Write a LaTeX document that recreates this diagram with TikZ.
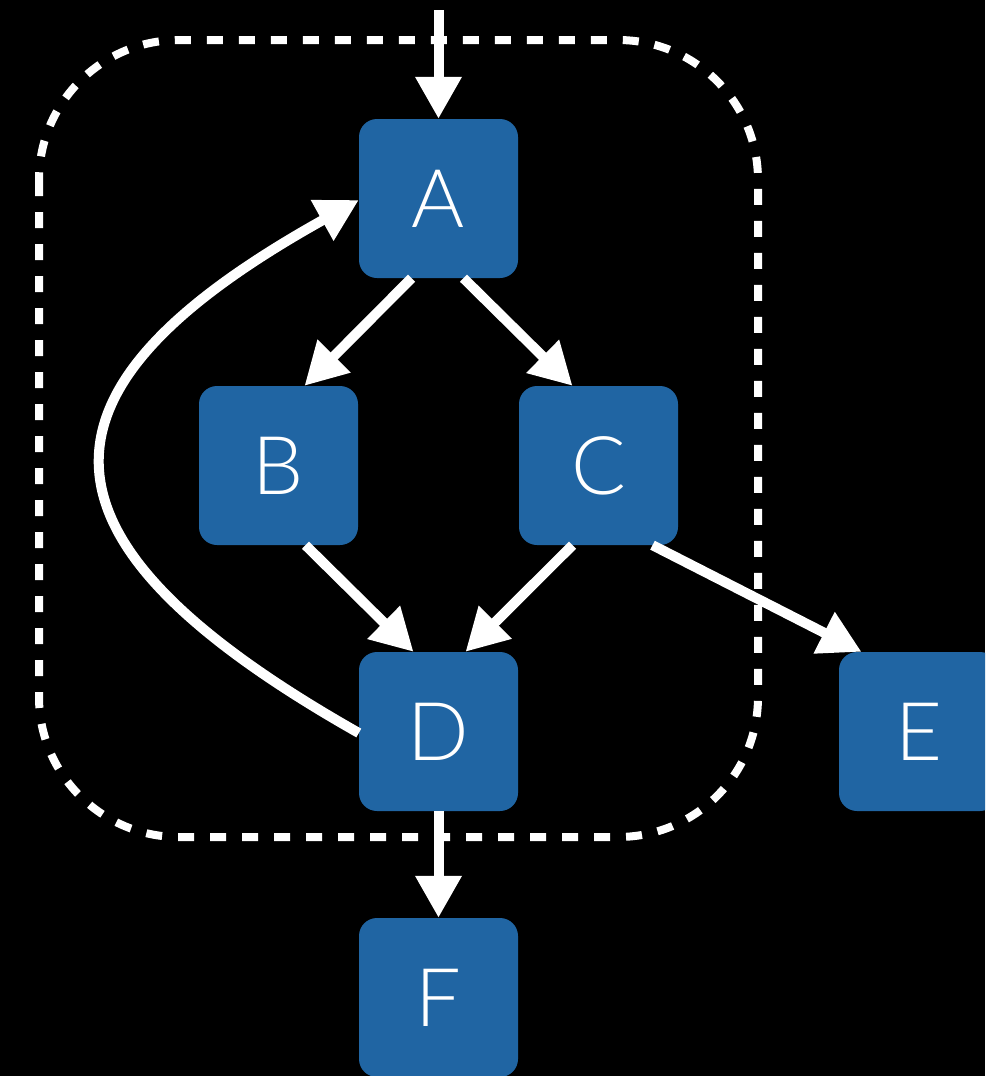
\documentclass[tikz,border=0pt]{standalone}
\usepackage{fontspec}
\setmainfont{Lato Light}
\usetikzlibrary{arrows.meta}
\definecolor{boxblue}{RGB}{32,101,163}
\tikzset{
  blk/.style={fill=boxblue, rounded corners=18pt, minimum width=159pt, minimum height=159pt,
    inner sep=0pt, text=white, font=\fontsize{81}{81}\selectfont},
  flow/.style={draw=white, line width=10pt, -{Triangle[length=42pt,width=44pt]}},
  frame/.style={draw=white, line width=8pt, dash pattern=on 16pt off 16pt, rounded corners=140pt}
}
\begin{document}
\begin{tikzpicture}[x=1pt,y=-1pt]
  \clip (0,0) rectangle (985,1076);
  \fill[black] (0,0) rectangle (985,1076);
  % dashed region around the loop
  \draw[frame] (39,40) rectangle (758,837);
  % blocks
  \node[blk] (A) at (438.5,198.5) {A};
  \node[blk] (B) at (278.5,465.5) {B};
  \node[blk] (C) at (598.5,465.5) {C};
  \node[blk] (D) at (438.5,731.5) {D};
  \node[blk] (E) at (918.5,731.5) {E};
  \node[blk] (F) at (438.5,997.5) {F};
  \coordinate (in) at (438.5,10);
  % connectors
  \draw[flow] (in) -- (A.north);
  \draw[flow] ([xshift=-27pt]A.south) -- ([xshift=26pt]B.north);
  \draw[flow] ([xshift=25pt]A.south) -- ([xshift=-26pt]C.north);
  \draw[flow] ([xshift=-133pt]D.north |- B.south) -- ([xshift=-25pt]D.north);
  \draw[flow] ([xshift=-26pt]C.south) -- ([xshift=27pt]D.north);
  \draw[flow] ([xshift=54pt]C.south) -- ([xshift=-57pt]E.north);
  \draw[flow] (D.south) -- (F.north);
  \draw[flow] ([yshift=-1.5pt]D.west) .. controls (18,540) and (18,390) .. ([yshift=-1.5pt]A.west);
\end{tikzpicture}
\end{document}
